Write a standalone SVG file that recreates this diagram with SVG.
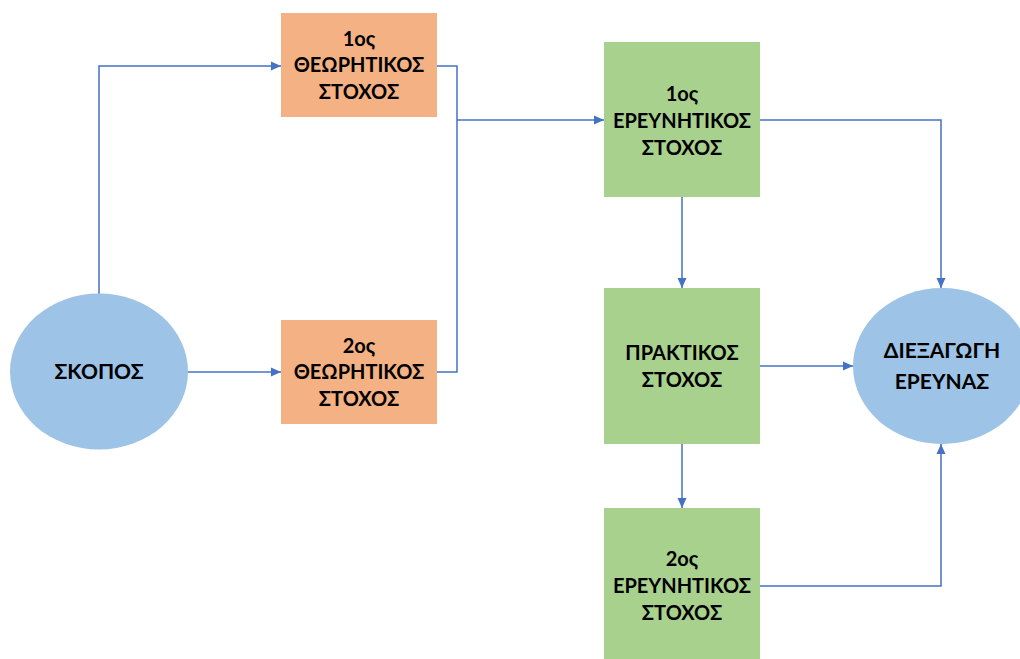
<svg xmlns="http://www.w3.org/2000/svg" width="1020" height="659" viewBox="0 0 1020 659">
  <style>
    .theory { fill: #F4B183; }
    .research { fill: #A9D18E; }
    .oval { fill: #9DC3E6; }
    .label { font-family: "Lato", "Open Sans", "Liberation Sans", sans-serif; font-weight: bold; font-size: 20px; fill: #000; text-anchor: middle; }
    .big { font-size: 21px; }
    .link { fill: none; stroke: #4472C4; stroke-width: 1.5; marker-end: url(#arrow); }
  </style>
  <defs>
    <marker id="arrow" viewBox="0 0 10 10" refX="10" refY="5" markerUnits="userSpaceOnUse" markerWidth="10" markerHeight="10" orient="auto">
      <path d="M0,0.5 L10,5 L0,9.5 Z" fill="#4472C4"/>
    </marker>
  </defs>
  <rect width="1020" height="659" fill="#fff"/>

  <!-- connectors -->
  <g id="connectors">
    <path class="link" d="M99,294 V66 H281"/>
    <path class="link" d="M188,372 H281"/>
    <path d="M437,66 H457 V372 H437" fill="none" stroke="#4472C4" stroke-width="1.5"/>
    <path class="link" d="M457,120 H604"/>
    <path class="link" d="M760,120 H941 V288"/>
    <path class="link" d="M682,197 V288"/>
    <path class="link" d="M760,366 H853"/>
    <path class="link" d="M682,444 V508"/>
    <path class="link" d="M760,586 H941 V444"/>
  </g>

  <!-- purpose -->
  <g id="skopos">
    <ellipse class="oval" cx="99" cy="371.5" rx="89" ry="78"/>
    <text class="label big" x="99" y="379">ΣΚΟΠΟΣ</text>
  </g>

  <!-- theoretical goals -->
  <g id="theory1">
    <rect class="theory" x="281" y="13" width="156" height="104"/>
    <text class="label" x="359" y="46">1ος</text>
    <text class="label" x="359" y="72">ΘΕΩΡΗΤΙΚΟΣ</text>
    <text class="label" x="359" y="99">ΣΤΟΧΟΣ</text>
  </g>
  <g id="theory2">
    <rect class="theory" x="281" y="320" width="156" height="104"/>
    <text class="label" x="359" y="353">2ος</text>
    <text class="label" x="359" y="379">ΘΕΩΡΗΤΙΚΟΣ</text>
    <text class="label" x="359" y="406">ΣΤΟΧΟΣ</text>
  </g>

  <!-- research goals -->
  <g id="research1">
    <rect class="research" x="604" y="42" width="156" height="155"/>
    <text class="label" x="682" y="101">1ος</text>
    <text class="label" x="682" y="128">ΕΡΕΥΝΗΤΙΚΟΣ</text>
    <text class="label" x="682" y="155">ΣΤΟΧΟΣ</text>
  </g>
  <g id="practical">
    <rect class="research" x="604" y="288" width="156" height="156"/>
    <text class="label" x="682" y="360">ΠΡΑΚΤΙΚΟΣ</text>
    <text class="label" x="682" y="387">ΣΤΟΧΟΣ</text>
  </g>
  <g id="research2">
    <rect class="research" x="604" y="508" width="156" height="156"/>
    <text class="label" x="682" y="566">2ος</text>
    <text class="label" x="682" y="593">ΕΡΕΥΝΗΤΙΚΟΣ</text>
    <text class="label" x="682" y="620">ΣΤΟΧΟΣ</text>
  </g>

  <!-- conduct of research -->
  <g id="conduct">
    <ellipse class="oval" cx="942" cy="366" rx="89" ry="78"/>
    <text class="label big" x="942" y="358">ΔΙΕΞΑΓΩΓΗ</text>
    <text class="label big" x="942" y="389">ΕΡΕΥΝΑΣ</text>
  </g>
</svg>
